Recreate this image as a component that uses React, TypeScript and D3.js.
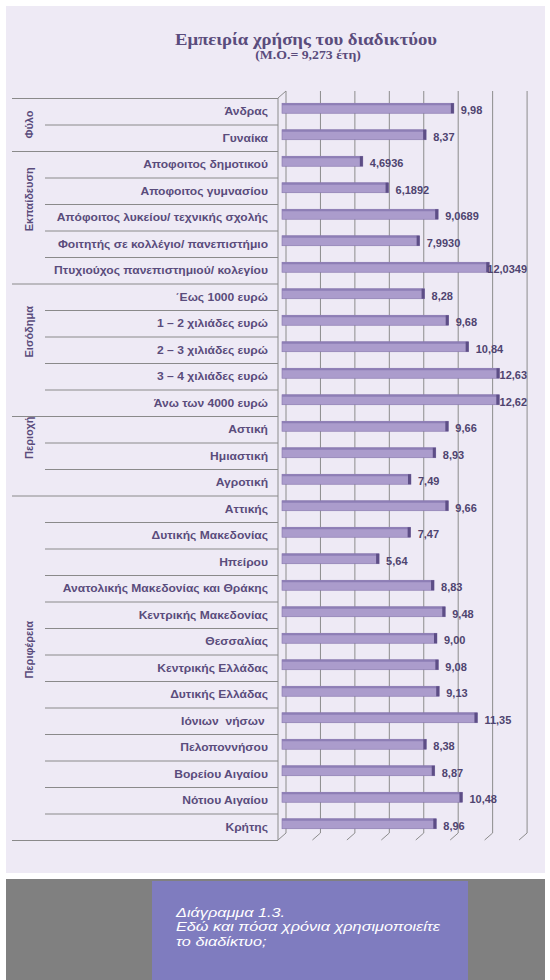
import React from "react";
import * as d3 from "d3";

const groups = ["Φύλο", "Εκπαίδευση", "Εισόδημα", "Περιοχή", "Περιφέρεια"];
const groupSizes = [2, 5, 5, 3, 13];

const categories = [
  "Άνδρας",
  "Γυναίκα",
  "Αποφοιτος δημοτικού",
  "Αποφοιτος γυμνασίου",
  "Απόφοιτος λυκείου/ τεχνικής σχολής",
  "Φοιτητής σε κολλέγιο/ πανεπιστήμιο",
  "Πτυχιούχος πανεπιστημιού/ κολεγίου",
  "΄Εως 1000 ευρώ",
  "1 – 2 χιλιάδες ευρώ",
  "2 – 3 χιλιάδες ευρώ",
  "3 – 4 χιλιάδες ευρώ",
  "Άνω των 4000 ευρώ",
  "Αστική",
  "Ημιαστική",
  "Αγροτική",
  "Αττικής",
  "Δυτικής Μακεδονίας",
  "Ηπείρου",
  "Ανατολικής Μακεδονίας και Θράκης",
  "Κεντρικής Μακεδονίας",
  "Θεσσαλίας",
  "Κεντρικής Ελλάδας",
  "Δυτικής Ελλάδας",
  "Ιόνιων  νήσων ",
  "Πελοποννήσου",
  "Βορείου Αιγαίου",
  "Νότιου Αιγαίου",
  "Κρήτης",
];

const values = [
  9.98, 8.37, 4.6936, 6.1892, 9.0689, 7.993, 12.0349, 8.28, 9.68, 10.84, 12.63,
  12.62, 9.66, 8.93, 7.49, 9.66, 7.47, 5.64, 8.83, 9.48, 9.0, 9.08, 9.13, 11.35,
  8.38, 8.87, 10.48, 8.96,
];

const valueLabels = [
  "9,98", "8,37", "4,6936", "6,1892", "9,0689", "7,9930", "12,0349", "8,28",
  "9,68", "10,84", "12,63", "12,62", "9,66", "8,93", "7,49", "9,66", "7,47",
  "5,64", "8,83", "9,48", "9,00", "9,08", "9,13", "11,35", "8,38", "8,87",
  "10,48", "8,96",
];

const gridTicks = [0, 2, 4, 6, 8, 10, 12, 14];

const title = "Εμπειρία χρήσης του διαδικτύου";
const subtitle = "(Μ.Ο.= 9,273  έτη)";
const captionLines = [
  "Διάγραμμα 1.3.",
  "Εδώ και πόσα χρόνια χρησιμοποιείτε",
  "το διαδίκτυο;",
];

const SANS = "'Liberation Sans', Arial, sans-serif";
const SERIF = "'Liberation Serif', 'DejaVu Serif', 'Times New Roman', serif";

let ctx: CanvasRenderingContext2D | null = null;
function measure(text: string, font: string) {
  if (!ctx) ctx = document.createElement("canvas").getContext("2d");
  if (!ctx) return text.length * 6;
  ctx.font = font;
  return ctx.measureText(text).width;
}

export default function App() {
  const W = 550;
  const H = 980;
  const top = 98;
  const bottom = 840;
  const depth = 4;
  const rise = 7;

  const x = d3.scaleLinear().domain([0, 14]).range([282, 282 + 14 * 17.22]);
  const y = d3
    .scaleBand<number>()
    .domain(d3.range(categories.length))
    .range([top, bottom])
    .padding(0);
  const rowH = y.bandwidth();
  const barH = 10;
  const plotRight = x(14) + depth;

  const textColor = "#5a4c7c";
  const labelColor = "#4f4470";

  const starts: number[] = [];
  let acc = 0;
  groupSizes.forEach((n) => {
    starts.push(acc);
    acc += n;
  });

  const valueFont = `bold 11px 'Liberation Sans'`;

  return (
    <svg
      width={W}
      height={H}
      style={{ position: "absolute", left: 0, top: 0, display: "block" }}
    >
      <rect x={0} y={0} width={W} height={H} fill="#ffffff" />
      <rect x={6} y={6} width={539} height={867} fill="#eeeaf5" />
      <rect x={6} y={879} width={539} height={101} fill="#808080" />
      <rect x={152} y={881} width={316} height={99} fill="#7f7cbf" />

      {/* caption */}
      <g transform="translate(176,0) scale(1.3,1)">
        <text
          fill="#ffffff"
          fontFamily={SANS}
          fontStyle="italic"
          fontSize={12.5}
        >
          {captionLines.map((l, i) => (
            <tspan key={i} x={0} y={917 + i * 14.5}>
              {l}
            </tspan>
          ))}
        </text>
      </g>

      {/* title */}
      <text
        transform="translate(306,45) scale(1.1,1)"
        textAnchor="middle"
        fontFamily={SERIF}
        fontWeight="bold"
        fontSize={17}
        fill={textColor}
      >
        {title}
      </text>
      <text
        transform="translate(308,59) scale(1.15,1)"
        textAnchor="middle"
        fontFamily={SERIF}
        fontWeight="bold"
        fontSize={12}
        fill={textColor}
      >
        {subtitle}
      </text>

      {/* back wall gridlines */}
      {gridTicks.map((t) => (
        <g key={t}>
          <line
            x1={x(t) + depth}
            x2={x(t) + depth}
            y1={top - rise}
            y2={bottom - rise}
            stroke="#8c8c8c"
            strokeWidth={1}
          />
          <line
            x1={x(t) + depth}
            x2={x(t) - depth}
            y1={bottom - rise}
            y2={bottom}
            stroke="#8c8c8c"
            strokeWidth={1}
          />
        </g>
      ))}
      <line
        x1={x(0) - depth}
        x2={x(0) + depth}
        y1={top}
        y2={top - rise}
        stroke="#8c8c8c"
      />
      <line
        x1={x(0) - depth}
        x2={x(0) - depth}
        y1={top}
        y2={bottom}
        stroke="#8c8c8c"
      />

      {/* table lines */}
      {d3.range(categories.length + 1).map((i) => {
        const yy = i === categories.length ? bottom : (y(i) as number);
        const isGroup = i === categories.length || starts.includes(i);
        return (
          <line
            key={i}
            x1={isGroup ? 12 : 45}
            x2={x(0) - depth}
            y1={yy + 0.5}
            y2={yy + 0.5}
            stroke="#8a8a8a"
            strokeWidth={1}
          />
        );
      })}

      {/* group labels */}
      {groups.map((g, gi) => {
        const n = groupSizes[gi];
        const y0 = y(starts[gi]) as number;
        const cy = y0 + (n * rowH) / 2 + (n > 2 ? -18 : 0);
        return (
          <text
            key={g}
            transform={`translate(33,${cy}) rotate(-90)`}
            textAnchor="middle"
            fontFamily={SANS}
            fontWeight="bold"
            fontSize={11}
            fill={textColor}
          >
            {g}
          </text>
        );
      })}

      {/* category labels */}
      {categories.map((c, i) => (
        <text
          key={i}
          transform={`translate(268,${(y(i) as number) + rowH / 2 + 4}) scale(1.15,1)`}
          textAnchor="end"
          fontFamily={SANS}
          fontWeight="bold"
          fontSize={10.5}
          fill={textColor}
          style={{ whiteSpace: "pre" }}
        >
          {c}
        </text>
      ))}

      {/* bars */}
      {values.map((v, i) => {
        const cy = (y(i) as number) + rowH / 2 - 3;
        const x0 = x(0);
        const x1 = x(v);
        return (
          <g key={i}>
            <rect
              x={x0}
              y={cy - barH / 2}
              width={x1 - x0}
              height={barH}
              fill="#ab9ccc"
              stroke="#8576ab"
              strokeWidth={0.6}
            />
            <rect
              x={x0}
              y={cy - barH / 2}
              width={x1 - x0}
              height={2}
              fill="#8d7eb5"
            />
            <rect
              x={x1 - 3}
              y={cy - barH / 2}
              width={3}
              height={barH}
              fill="#5d4e86"
            />
          </g>
        );
      })}

      {/* value labels */}
      {values.map((v, i) => {
        const cy = (y(i) as number) + rowH / 2 - 3;
        const w = measure(valueLabels[i], valueFont);
        let lx = x(v) + 7;
        if (lx + w > plotRight) lx = plotRight - w;
        return (
          <text
            key={i}
            x={lx}
            y={cy + 6}
            fontFamily={SANS}
            fontWeight="bold"
            fontSize={11}
            fill={labelColor}
          >
            {valueLabels[i]}
          </text>
        );
      })}
    </svg>
  );
}
